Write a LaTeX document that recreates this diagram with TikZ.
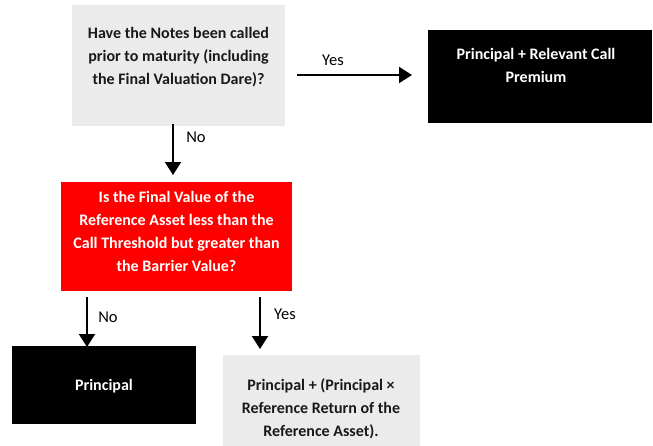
\documentclass[tikz,border=0pt]{standalone}
\usepackage{fontspec}
\setmainfont{Carlito}
\usetikzlibrary{arrows.meta,calc}
\definecolor{boxgray}{HTML}{EBEBEB}
\definecolor{boxred}{HTML}{FF0000}
\begin{document}
\begin{tikzpicture}[x=1pt,y=-1pt,
  box/.style={draw=none,inner sep=0pt,outer sep=0pt},
  txt/.style={align=center,inner sep=0pt,font=\fontsize{16}{23}\selectfont\bfseries},
  lbl/.style={inner sep=0pt,font=\fontsize{16.5}{18}\selectfont},
  arr/.style={line width=2pt,-{Triangle[width=16pt,length=13pt]}}]
\useasboundingbox (0,0) rectangle (653,445);
% boxes
\node[box,fill=boxgray,minimum width=213pt,minimum height=121pt] (q1) at (178.5,65.5) {};
\node[box,fill=black,minimum width=224pt,minimum height=93pt] (r1) at (540,76.5) {};
\node[box,fill=boxred,minimum width=231pt,minimum height=109pt] (q2) at (176.5,236.5) {};
\node[box,fill=black,minimum width=184pt,minimum height=78pt] (r2) at (104,385) {};
\node[box,fill=boxgray,minimum width=197pt,minimum height=92pt] (r3) at (321,401) {};
% texts
\node[txt,text=black!90] (t1) at (178.5,57) {Have the Notes been called\\prior to maturity (including\\the Final Valuation Dare)?};
\node[txt,text=white] (t2) at (536,65) {Principal + Relevant Call\\Premium};
\node[txt,text=white] (t3) at (176.5,231) {Is the Final Value of the\\Reference Asset less than the\\Call Threshold but greater than\\the Barrier Value?};
\node[txt,text=white] (t4) at (104,386) {Principal};
\node[txt,text=black!90] (t5) at (321,409) {Principal + (Principal ×\\Reference Return of the\\Reference Asset).};
% connectors
\coordinate (a1s) at (297,75);
\coordinate (a2s) at (173,124);
\coordinate (a3s) at (87,297);
\coordinate (a4s) at (260,297);
\draw[arr,shorten >=16pt] (a1s) -- (a1s -| r1.west);
\draw[arr,shorten >=7pt] (a2s) -- (a2s |- q2.north);
\draw[arr,shorten >=-1pt] (a3s) -- (a3s |- r2.north);
\draw[arr,shorten >=6pt] (a4s) -- (a4s |- r3.north);
% labels
\node[lbl] (l1) at (333,60) {Yes};
\node[lbl] (l2) at (196,137) {No};
\node[lbl] (l3) at (108,317) {No};
\node[lbl] (l4) at (285,314) {Yes};
\end{tikzpicture}
\end{document}
